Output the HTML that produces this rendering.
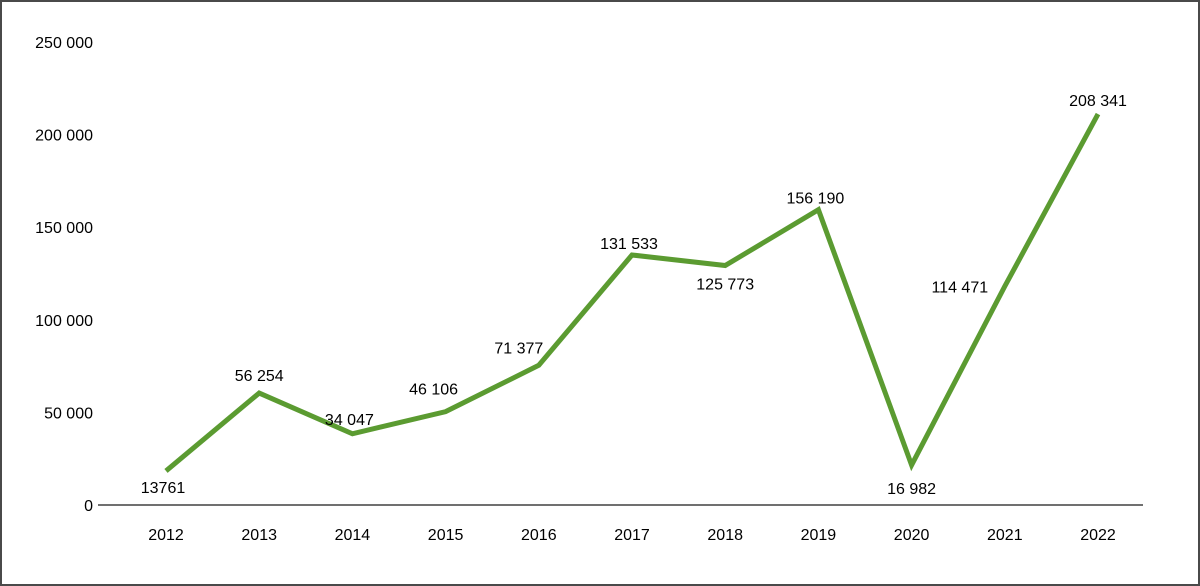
<!DOCTYPE html>
<html><head><meta charset="utf-8"><style>
html,body{margin:0;padding:0;background:#fff}
#wrap{position:relative;width:1200px;height:586px;box-sizing:border-box;border:2px solid #4a4a4a;overflow:hidden}
svg text{font-family:"Liberation Sans",sans-serif;font-size:16px;fill:#000}
</style></head><body>
<div id="wrap">
<svg id="chart" width="1200" height="586" style="position:absolute;left:-2px;top:-2px"></svg>
</div>
<script>
const years=["2012","2013","2014","2015","2016","2017","2018","2019","2020","2021","2022"];
const values=[13761,56254,34047,46106,71377,131533,125773,156190,16982,114471,208341];
const valueLabels=["13761","56 254","34 047","46 106","71 377","131 533","125 773","156 190","16 982","114 471","208 341"];
const yTicks=[0,50000,100000,150000,200000,250000];
const yTickLabels=["0","50 000","100 000","150 000","200 000","250 000"];
const labelDx=[-3,0,-3,-12,-20,-3,0,-3,0,-45,0];
const labelDy=[16,-18,-15,-23,-18,-12,18,-12,23,0,-14];

const svg=document.getElementById('chart');
const NS='http://www.w3.org/2000/svg';
function X(i){return 166+i*93.2;}
function Y(v){return 496.2-v*0.001834;}
function TY(v){return 505-v/50000*92.6;}

const axis=document.createElementNS(NS,'line');
axis.setAttribute('x1',98);axis.setAttribute('x2',1143);axis.setAttribute('y1',505);axis.setAttribute('y2',505);
axis.setAttribute('stroke','#404040');axis.setAttribute('stroke-width','1.5');


svg.appendChild(axis);

yTicks.forEach((v,i)=>{
  const t=document.createElementNS(NS,'text');
  t.setAttribute('x',93);t.setAttribute('y',TY(v)+6);t.setAttribute('text-anchor','end');
  t.textContent=yTickLabels[i];
  
  
  svg.appendChild(t);
});
years.forEach((y,i)=>{
  const t=document.createElementNS(NS,'text');
  t.setAttribute('x',X(i));t.setAttribute('y',540);t.setAttribute('text-anchor','middle');
  t.textContent=y;
  
  
  svg.appendChild(t);
});
const pl=document.createElementNS(NS,'polyline');
pl.setAttribute('points',values.map((v,i)=>X(i)+','+Y(v)).join(' '));
pl.setAttribute('fill','none');pl.setAttribute('stroke','#5b9b31');pl.setAttribute('stroke-width','5');
pl.setAttribute('stroke-linejoin','miter');


svg.appendChild(pl);
values.forEach((v,i)=>{
  const t=document.createElementNS(NS,'text');
  t.setAttribute('x',X(i)+labelDx[i]);t.setAttribute('y',Y(v)+labelDy[i]+6);t.setAttribute('text-anchor','middle');
  t.textContent=valueLabels[i];
  
  
  svg.appendChild(t);
});
</script>
</body></html>
